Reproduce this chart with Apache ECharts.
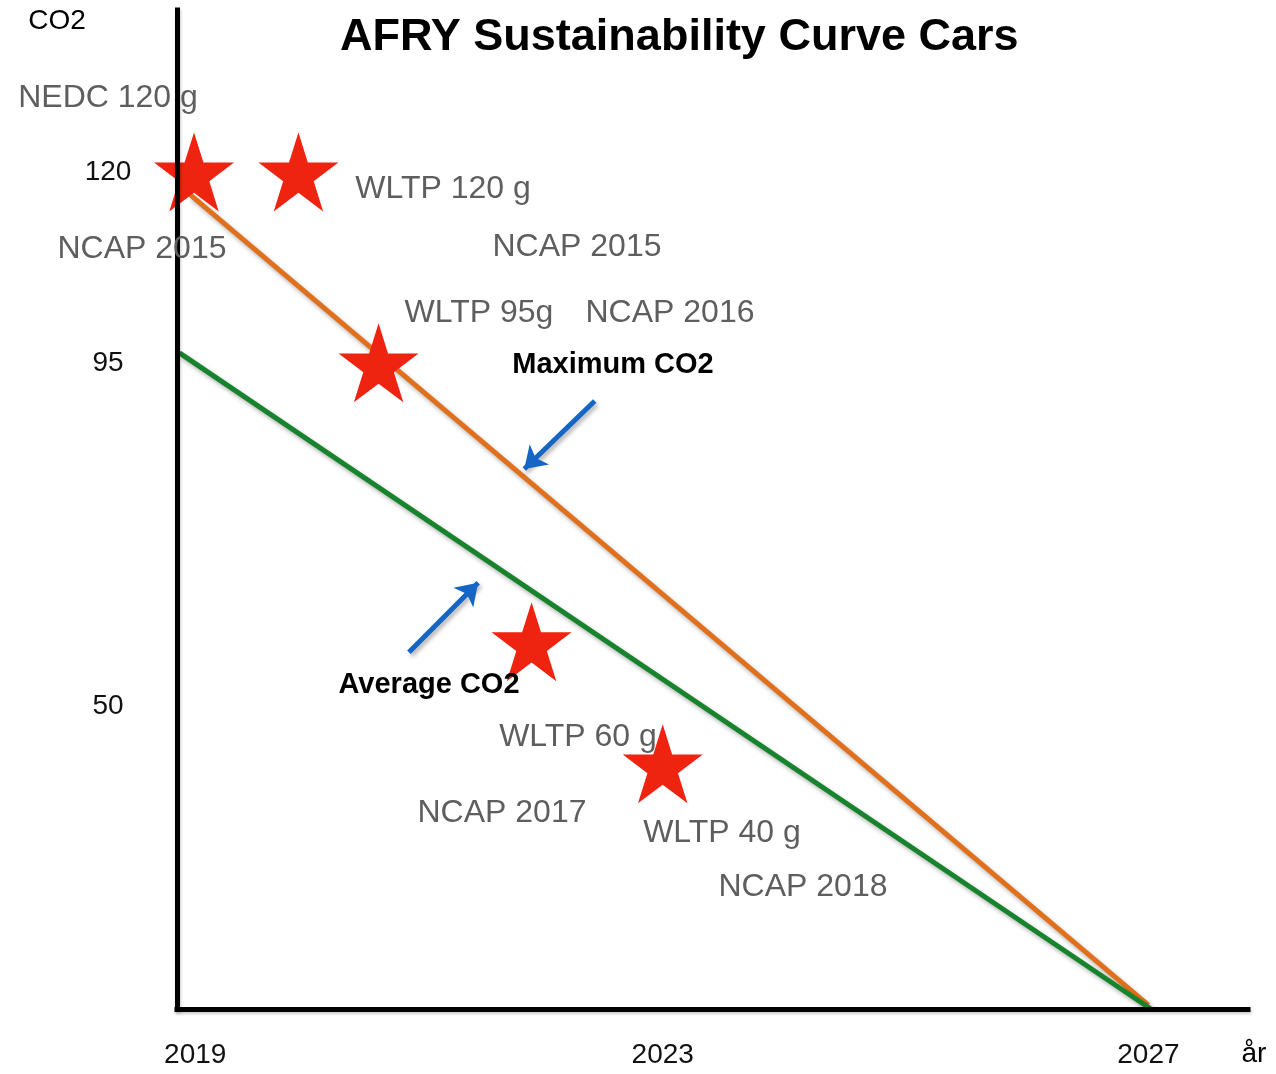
<!DOCTYPE html>
<html>
<head>
<meta charset="utf-8">
<title>AFRY Sustainability Curve Cars</title>
<script src="https://cdn.jsdelivr.net/npm/echarts@6/dist/echarts.min.js"></script>
<style>
  html, body { margin: 0; padding: 0; background: #fff; }
  #chart { width: 1276px; height: 1074px; }
</style>
</head>
<body>
<div id="chart"></div>
<script>
// ===== data =====
const xTickValues = [2019.15, 2023, 2027];
const xTickLabels = ["2019", "2023", "2027"];
const yTickValues = [50, 95, 120];

// maximum CO2 line (orange) and average CO2 line (green): [year, g/km]
const maxLineX = [2019.11, 2027.0];
const maxLineY = [117.0, 10.9];
const avgLineX = [2019.02, 2027.02];
const avgLineY = [96.3, 10.4];

// red stars
const starX = [2019.14, 2020.0, 2020.66, 2021.92, 2023.0];
const starY = [120, 120, 95, 58.5, 42.5];

// blue pointer arrows: from -> to
const arrowFromX = [2022.44, 2020.91];
const arrowFromY = [90.0, 57.1];
const arrowToX = [2021.86, 2021.48];
const arrowToY = [81.1, 66.2];

// free text notes (pixel centres)
const notes = [
  { text: "NEDC 120 g", x: 108, y: 98 },
  { text: "NCAP 2015", x: 142, y: 249 },
  { text: "WLTP 120 g", x: 443, y: 189 },
  { text: "NCAP 2015", x: 577, y: 247 },
  { text: "WLTP 95g", x: 479, y: 313 },
  { text: "NCAP 2016", x: 670, y: 313 },
  { text: "WLTP 60 g", x: 578, y: 737 },
  { text: "NCAP 2017", x: 502, y: 813 },
  { text: "WLTP 40 g", x: 722, y: 833 },
  { text: "NCAP 2018", x: 803, y: 887 },
  { text: "Maximum CO2", x: 613, y: 365, bold: true },
  { text: "Average CO2", x: 429, y: 685, bold: true },
  { text: "CO2", x: 57, y: 21, axis: true },
  { text: "år", x: 1254, y: 1054, axis: true }
];

const FONT = '"Liberation Sans", Arial, Helvetica, sans-serif';
const STAR = "path://M50 0 L61.23 34.55 L97.55 34.55 L68.17 55.9 L79.39 90.45 L50 69.1 L20.61 90.45 L31.83 55.9 L2.45 34.55 L38.77 34.55 Z";

const zip = (xs, ys) => xs.map((x, i) => [x, ys[i]]);

const shadow = {
  shadowColor: "rgba(0,0,0,0.3)",
  shadowBlur: 4,
  shadowOffsetX: 2,
  shadowOffsetY: 3
};

const axisLine = {
  show: true,
  lineStyle: {
    color: "#000",
    width: 5,
    cap: "square",
    shadowColor: "rgba(0,0,0,0.2)",
    shadowBlur: 3,
    shadowOffsetX: 1,
    shadowOffsetY: 2
  }
};

const chart = echarts.init(document.getElementById("chart"));

const option = {
  animation: false,
  backgroundColor: "#fff",
  title: {
    text: "AFRY Sustainability Curve Cars",
    left: 340,
    top: 15,
    padding: 0,
    textStyle: {
      fontFamily: FONT,
      fontWeight: "bold",
      fontSize: 45,
      lineHeight: 46,
      color: "#000"
    }
  },
  grid: { left: 177, right: 28, top: 10, bottom: 65 },
  xAxis: {
    type: "value",
    min: 2019,
    max: 2027.82,
    z: 10,
    axisLine: axisLine,
    axisTick: { show: false },
    splitLine: { show: false },
    axisLabel: {
      customValues: xTickValues,
      formatter: (v) => xTickLabels[xTickValues.indexOf(v)] || "",
      margin: 32,
      fontFamily: FONT,
      fontSize: 28,
      lineHeight: 28,
      color: "#111"
    }
  },
  yAxis: {
    type: "value",
    min: 10.4,
    max: 141.2,
    z: 10,
    axisLine: axisLine,
    axisTick: { show: false },
    splitLine: { show: false },
    axisLabel: {
      customValues: yTickValues,
      align: "center",
      margin: 69,
      padding: [4, 0, 0, 0],
      fontFamily: FONT,
      fontSize: 28,
      color: "#111"
    }
  },
  series: [
    {
      name: "Maximum CO2",
      type: "line",
      data: zip(maxLineX, maxLineY),
      symbol: "none",
      z: 3,
      lineStyle: Object.assign({ color: "#e0701c", width: 5 }, shadow)
    },
    {
      name: "Average CO2",
      type: "line",
      data: zip(avgLineX, avgLineY),
      symbol: "none",
      z: 3,
      lineStyle: Object.assign({ color: "#17832c", width: 5 }, shadow)
    },
    {
      name: "arrows",
      type: "lines",
      coordinateSystem: "cartesian2d",
      z: 4,
      symbol: ["none", "arrow"],
      symbolSize: 21,
      lineStyle: Object.assign({ color: "#1565c4", width: 5, opacity: 1 }, shadow),
      data: arrowFromX.map((x, i) => ({
        coords: [[x, arrowFromY[i]], [arrowToX[i], arrowToY[i]]]
      }))
    },
    {
      name: "stars",
      type: "scatter",
      z: 5,
      symbol: STAR,
      symbolSize: [80, 79],
      itemStyle: { color: "#ee2310", opacity: 1 },
      data: zip(starX, starY)
    }
  ],
  graphic: notes.map((n) => ({
    type: "text",
    x: n.x,
    y: n.y,
    z: 20,
    style: {
      text: n.text,
      font: (n.bold ? "bold 29px " : n.axis ? "28px " : "32px ") + FONT,
      fill: n.bold || n.axis ? "#000" : "#5e5e5e",
      align: "center",
      verticalAlign: "middle",
      textAlign: "center",
      textVerticalAlign: "middle"
    }
  }))
};

chart.setOption(option);
</script>
</body>
</html>
